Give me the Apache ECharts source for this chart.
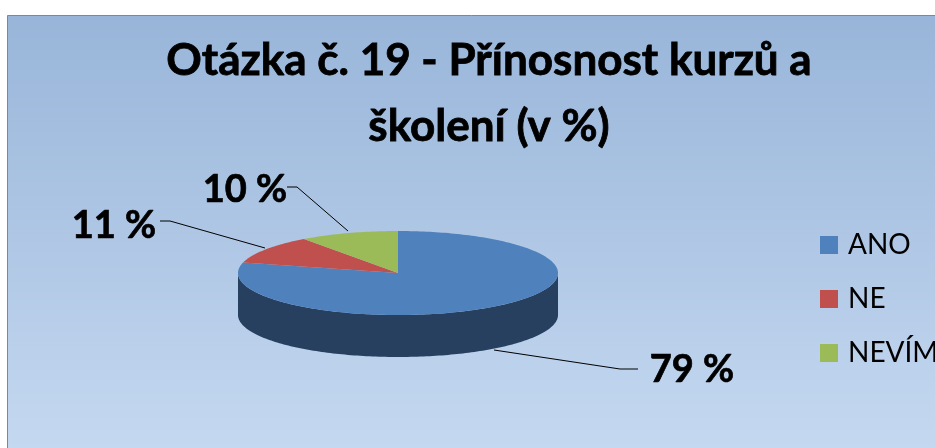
<!DOCTYPE html>
<html>
<head>
<meta charset="utf-8">
<style>html,body{margin:0;padding:0;background:#fff}#c{width:935px;height:448px}</style>
<script src="https://cdn.jsdelivr.net/npm/echarts@6/dist/echarts.min.js"></script>
</head>
<body>
<div id="c"></div>
<script>
const categories = ['ANO', 'NE', 'NEVÍM'];
const values = [79, 11, 10];
const sliceColors = ['#4f81bd', '#c0504d', '#9bbb59'];
const sideColors = ['#27405f', '#7a3230', '#637a38'];
const titleText = 'Otázka č. 19 - Přínosnost kurzů a\nškolení (v %)';

// layout only
const pie = { cx: 398, cy: 273, rx: 160, ry: 42, depth: 42 };
const leaders = [
  [[494, 350], [620, 369], [638, 369]],
  [[265, 248], [170, 221], [160, 221]],
  [[348, 231], [297, 187], [287, 187]]
];
const labelPos = [[692, 370], [114, 226], [245, 190]];

const total = values.reduce((a, b) => a + b, 0);
const font = 'Lato, Carlito, Calibri, sans-serif';

function pt(a, dy) {
  return [pie.cx + pie.rx * Math.sin(a), pie.cy - pie.ry * Math.cos(a) + (dy || 0)];
}
function arc(a0, a1, dy) {
  const n = Math.max(2, Math.ceil(Math.abs(a1 - a0) / 0.02));
  const out = [];
  for (let i = 0; i <= n; i++) out.push(pt(a0 + (a1 - a0) * i / n, dy));
  return out;
}
function renderSlice(idx) {
  return function (params, api) {
    const val = api.value(0);
    let before = 0;
    for (let i = 0; i < idx; i++) before += values[i];
    const a0 = before / total * Math.PI * 2;
    const a1 = (before + val) / total * Math.PI * 2;
    const children = [];
    // visible rim: lower half of the ellipse, PI/2 .. 3PI/2
    const s0 = Math.max(a0, Math.PI / 2), s1 = Math.min(a1, Math.PI * 1.5);
    if (s1 > s0) {
      const top = arc(s0, s1, 0), bottom = arc(s1, s0, pie.depth);
      children.push({
        type: 'polygon', shape: { points: top.concat(bottom) },
        style: { fill: sideColors[idx] }
      });
    }
    children.push({
      type: 'polygon', shape: { points: [[pie.cx, pie.cy]].concat(arc(a0, a1, 0)) },
      style: { fill: sliceColors[idx] }
    });
    children.push({
      type: 'polyline', shape: { points: leaders[idx] },
      style: { stroke: '#000', lineWidth: 1, fill: null }
    });
    children.push({
      type: 'text',
      style: {
        x: labelPos[idx][0], y: labelPos[idx][1], text: val + ' %',
        fill: '#000', font: 'bold 38px ' + font, align: 'center', verticalAlign: 'middle',
        stroke: '#000', lineWidth: 0.7
      }
    });
    return { type: 'group', children: children };
  };
}

const chart = echarts.init(document.getElementById('c'), null, { renderer: 'canvas' });
chart.setOption({
  animation: false,
  color: sliceColors,
  graphic: [{
    type: 'rect', z: -10, silent: true,
    shape: { x: 7.5, y: 15.5, width: 940, height: 445 },
    style: {
      stroke: '#868686', lineWidth: 1,
      fill: new echarts.graphic.LinearGradient(0, 0, 0, 1, [
        { offset: 0, color: '#98b5d9' },
        { offset: 1, color: '#c6d9f1' }
      ])
    }
  }],
  title: {
    text: titleText, left: 484, top: 23, textAlign: 'center',
    textStyle: {
      fontFamily: font, fontWeight: 'bold', fontSize: 44, lineHeight: 66, color: '#000',
      textBorderColor: '#000', textBorderWidth: 0.8
    }
  },
  legend: {
    orient: 'vertical', left: 820, top: 229, icon: 'rect', padding: 0,
    itemWidth: 18, itemHeight: 18, itemGap: 22, selectedMode: false,
    data: categories,
    textStyle: { fontFamily: font, fontSize: 28, color: '#000', lineHeight: 32, padding: [0, 0, 0, 5] }
  },
  series: categories.map((name, i) => ({
    type: 'custom', name: name, renderItem: renderSlice(i),
    coordinateSystem: 'none', silent: true,
    itemStyle: { color: sliceColors[i] },
    data: [[values[i]]]
  }))
});
</script>
</body>
</html>
